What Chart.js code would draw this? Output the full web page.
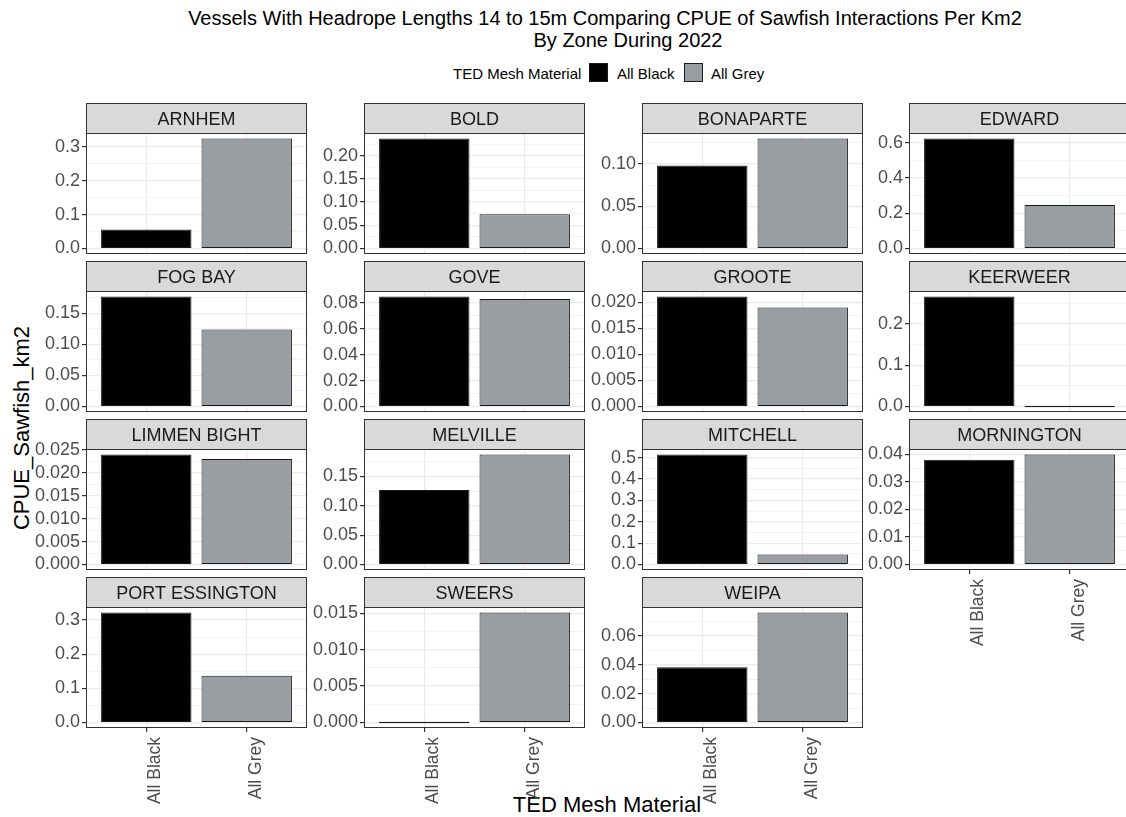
<!DOCTYPE html>
<html>
<head>
<meta charset="utf-8">
<title>CPUE of Sawfish Interactions Per Km2 by Zone, 2022</title>
<script src="https://cdn.jsdelivr.net/npm/chart.js@4.4.1/dist/chart.umd.min.js"></script>
<style>
  html, body { margin: 0; padding: 0; background: #ffffff; overflow: hidden; }
  body { position: relative; width: 1126px; height: 817px; font-family: "Liberation Sans", Arial, Helvetica, sans-serif; }
  .txt { position: absolute; white-space: nowrap; color: #000000; line-height: 1; }
  .center { transform: translate(-50%, -50%); }
  .key { position: absolute; width: 19px; height: 19px; box-sizing: border-box; border: 1px solid #1a1a1a; }
  canvas { position: absolute; }
</style>
</head>
<body>
<div class="txt center" style="left:605px; top:18px; font-size:20px;">Vessels With Headrope Lengths 14 to 15m Comparing CPUE of Sawfish Interactions Per Km2</div>
<div class="txt center" style="left:628px; top:40px; font-size:20px;">By Zone During 2022</div>

<div class="txt" style="left:453px; top:66px; font-size:15px;">TED Mesh Material</div>
<div class="key" style="left:589px; top:63px; background:#000000;"></div>
<div class="txt" style="left:617px; top:66px; font-size:15px;">All Black</div>
<div class="key" style="left:684px; top:63px; background:#999ea3;"></div>
<div class="txt" style="left:711px; top:66px; font-size:15px;">All Grey</div>

<div class="txt" style="left:22px; top:428px; font-size:22px; transform: translate(-50%, -50%) rotate(-90deg);">CPUE_Sawfish_km2</div>
<div class="txt center" style="left:607px; top:805px; font-size:22px;">TED Mesh Material</div>

<script>
// Zones (one facet each) and the two TED mesh materials on the x axis
const zones = ["ARNHEM", "BOLD", "BONAPARTE", "EDWARD", "FOG BAY", "GOVE", "GROOTE", "KEERWEER",
               "LIMMEN BIGHT", "MELVILLE", "MITCHELL", "MORNINGTON", "PORT ESSINGTON", "SWEERS", "WEIPA"];
const meshMaterials = ["All Black", "All Grey"];

// CPUE_Sawfish_km2 per zone for each material
const allBlack = [0.056, 0.237, 0.098, 0.624, 0.177, 0.0848, 0.0211, 0.266,
                  0.0240, 0.127, 0.515, 0.0381, 0.322, 0.0, 0.0382];
const allGrey  = [0.325, 0.074, 0.130, 0.247, 0.124, 0.0828, 0.0190, 0.0,
                  0.0230, 0.1875, 0.047, 0.0400, 0.1365, 0.0151, 0.0762];

// Y tick labels of each facet (free y scales)
const yTickLabels = [
  ["0.0", "0.1", "0.2", "0.3"],
  ["0.00", "0.05", "0.10", "0.15", "0.20"],
  ["0.00", "0.05", "0.10"],
  ["0.0", "0.2", "0.4", "0.6"],
  ["0.00", "0.05", "0.10", "0.15"],
  ["0.00", "0.02", "0.04", "0.06", "0.08"],
  ["0.000", "0.005", "0.010", "0.015", "0.020"],
  ["0.0", "0.1", "0.2"],
  ["0.000", "0.005", "0.010", "0.015", "0.020", "0.025"],
  ["0.00", "0.05", "0.10", "0.15"],
  ["0.0", "0.1", "0.2", "0.3", "0.4", "0.5"],
  ["0.00", "0.01", "0.02", "0.03", "0.04"],
  ["0.0", "0.1", "0.2", "0.3"],
  ["0.000", "0.005", "0.010", "0.015"],
  ["0.00", "0.02", "0.04", "0.06"]
];

// ---- layout of the facet grid ----
const FONT = "'Liberation Sans', Arial, Helvetica, sans-serif";
const NCOL = 4;
const colLeft = [86, 364, 642, 909];
const rowTop = [103, 261, 419, 577];
const PANEL_W = 221, PANEL_H = 121, STRIP_H = 30;
const AXIS_W = 84, BELOW = 7, XLAB_H = 95;
const barFills = ["#000000", "#999ea3"];
const GRID = "#ebebeb", FRAME = "#333333";

// strip header + panel border drawn around the chart area
const facetFrame = {
  id: "facetFrame",
  afterDatasetsDraw(chart, args, opts) {
    const { ctx, chartArea: a } = chart;
    ctx.save();
    ctx.fillStyle = "#d9d9d9";
    ctx.fillRect(a.left, a.top - STRIP_H, a.right - a.left, STRIP_H);
    ctx.strokeStyle = FRAME;
    ctx.lineWidth = 1;
    ctx.strokeRect(a.left + 0.5, a.top - STRIP_H + 0.5, a.right - a.left - 1, STRIP_H);
    ctx.strokeRect(a.left + 0.5, a.top + 0.5, a.right - a.left - 1, a.bottom - a.top - 1);
    ctx.fillStyle = "#1a1a1a";
    ctx.font = "18px " + FONT;
    ctx.textAlign = "center";
    ctx.textBaseline = "middle";
    ctx.fillText(opts.label, (a.left + a.right) / 2, a.top - STRIP_H / 2 + 2);
    ctx.restore();
  }
};

function yTicksFor(i, yMin, yMax) {
  const majors = yTickLabels[i].map(s => ({ value: parseFloat(s), text: s, minor: false }));
  const step = majors[1].value - majors[0].value;
  const minors = [];
  for (let k = -1; k <= majors.length; k++) {
    const v = majors[0].value + (k + 0.5) * step;
    if (v >= yMin && v <= yMax) minors.push({ value: v, text: "", minor: true });
  }
  return majors.concat(minors).sort((p, q) => p.value - q.value);
}

zones.forEach((zone, i) => {
  const row = Math.floor(i / NCOL), col = i % NCOL;
  const showX = i + NCOL >= zones.length;
  const top = Math.max(allBlack[i], allGrey[i]);
  const yMin = -0.05 * top, yMax = 1.05 * top;
  const yTicks = yTicksFor(i, yMin, yMax);

  const w = AXIS_W + PANEL_W;
  const h = STRIP_H + PANEL_H + (showX ? XLAB_H : BELOW);
  const canvas = document.createElement("canvas");
  canvas.width = w; canvas.height = h;
  canvas.style.width = w + "px"; canvas.style.height = h + "px";
  canvas.style.left = (colLeft[col] - AXIS_W) + "px";
  canvas.style.top = rowTop[row] + "px";
  document.body.appendChild(canvas);

  new Chart(canvas, {
    type: "bar",
    data: {
      datasets: [{
        data: meshMaterials.map((m, k) => ({ x: k + 1, y: k === 0 ? allBlack[i] : allGrey[i] })),
        backgroundColor: barFills,
        borderColor: "#1a1a1a",
        borderWidth: 1,
        borderSkipped: false,
        barPercentage: 0.9,
        categoryPercentage: 1.0,
        minBarLength: 1.5
      }]
    },
    options: {
      responsive: false,
      devicePixelRatio: 1,
      animation: false,
      events: [],
      layout: { padding: { top: STRIP_H, right: 0, bottom: showX ? 0 : BELOW, left: 0 } },
      plugins: {
        legend: { display: false },
        tooltip: { enabled: false },
        facetFrame: { label: zone }
      },
      scales: {
        x: {
          type: "linear",
          min: 0.4, max: 2.6,
          offset: false,
          afterBuildTicks: s => { s.ticks = meshMaterials.map((m, k) => ({ value: k + 1 })); },
          afterFit: s => { s.height = showX ? XLAB_H : 0; s.paddingLeft = 0; s.paddingRight = 0; },
          ticks: {
            display: showX,
            autoSkip: false,
            minRotation: 90, maxRotation: 90,
            padding: 5,
            labelOffset: 9,
            color: "#4d4d4d",
            font: { family: FONT, size: 17.5 },
            callback: v => meshMaterials[Math.round(v) - 1]
          },
          grid: { offset: false, color: GRID, lineWidth: 1.2, drawTicks: showX, tickLength: 4, tickColor: FRAME },
          border: { display: false }
        },
        y: {
          min: yMin, max: yMax,
          afterBuildTicks: s => { s.ticks = yTicks.map(t => Object.assign({}, t)); },
          afterFit: s => { s.width = AXIS_W; s.paddingTop = 0; s.paddingBottom = 0; },
          ticks: {
            autoSkip: false,
            padding: 2,
            color: "#4d4d4d",
            font: { family: FONT, size: 18 },
            callback: (v, idx, ticks) => ticks[idx].text
          },
          grid: {
            color: GRID,
            lineWidth: c => (c.tick && c.tick.minor ? 0.6 : 1.2),
            tickLength: 4,
            tickColor: c => (c.tick && c.tick.minor ? "rgba(0,0,0,0)" : FRAME)
          },
          border: { display: false }
        }
      }
    },
    plugins: [facetFrame]
  });
});
</script>
</body>
</html>
